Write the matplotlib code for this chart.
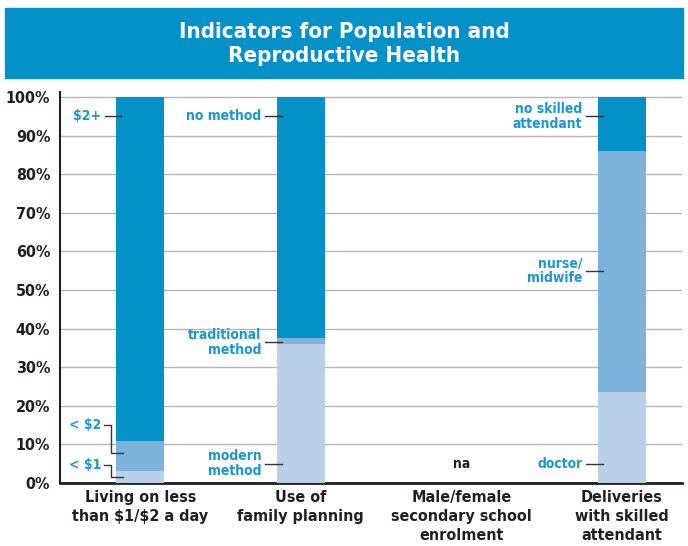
import matplotlib
matplotlib.use("Agg")
from matplotlib import pyplot as plt
from matplotlib.patches import Rectangle
import numpy as np

plt.rcParams['font.family'] = ['DejaVu Sans']
plt.rcParams['font.weight'] = 'bold'
plt.rcParams['font.stretch'] = 'condensed'

categories = ["Living on less\nthan \\$1/\\$2 a day", "Use of\nfamily planning",
              "Male/female\nsecondary school\nenrolment", "Deliveries\nwith skilled\nattendant"]
# stacked segments, bottom to top (percent)
poverty = [3, 8, 89]              # < $1, < $2, $2+
family_planning = [36, 1.5, 62.5]  # modern, traditional, no method
deliveries = [23.5, 62.5, 14]      # doctor, nurse/midwife, no skilled attendant
yticks = [0, 10, 20, 30, 40, 50, 60, 70, 80, 90, 100]

c_light = "#b9d0e9"
c_mid = "#7db2db"
c_dark = "#0391c8"
c_text = "#1a98d5"
c_ink = "#231f20"

fig = plt.figure(figsize=(6.88, 5.46), dpi=100)
ax = fig.add_axes([60/688, 63/546, 622/688, 391/546])

# title band
fig.patches.append(Rectangle((5/688, 468/546), 678/688, 70/546,
                             transform=fig.transFigure, color=c_dark, zorder=0))
fig.text(0.5, 502/546, "Indicators for Population and\nReproductive Health",
         ha='center', va='center', color='white', fontsize=16, linespacing=1.25)

w = 0.3
for xi, vals in [(0, poverty), (1, family_planning), (3, deliveries)]:
    bottom = 0
    for v, c in zip(vals, [c_light, c_mid, c_dark]):
        ax.bar(xi, v, w, bottom=bottom, color=c, zorder=3)
        bottom += v

ax.set_xlim(-0.5, 3.375)
ax.set_ylim(0, 101.3)
ax.set_yticks(yticks)
ax.set_yticklabels([f"{t}%" for t in yticks], fontsize=11.5, color=c_ink)
ax.set_xticks(range(4))
ax.set_xticklabels(categories, fontsize=11.5, color=c_ink, linespacing=1.35, va='top')
ax.tick_params(length=0, pad=5)
ax.tick_params(axis='y', pad=7)
ax.grid(axis='y', color='#b5b5b5', lw=1, zorder=0)
for s in ['top', 'right']:
    ax.spines[s].set_visible(False)
ax.spines['left'].set_color(c_ink)
ax.spines['left'].set_linewidth(1.5)
ax.spines['bottom'].set_color(c_ink)
ax.spines['bottom'].set_linewidth(2)

fs = 10


def label(xc, y, text):
    ax.text(xc - 0.245, y, text, ha='right', va='center', color=c_text,
            fontsize=fs, linespacing=1.1, zorder=4)
    ax.plot([xc - 0.22, xc - 0.12], [y, y], color='#333333', lw=1, zorder=5)


label(0, 95, "$2+")
label(1, 95, "no method")
label(1, 36.5, "traditional\nmethod")
label(1, 5, "modern\nmethod")
label(3, 95, "no skilled\nattendant")
label(3, 55, "nurse/\nmidwife")
label(3, 5, "doctor")

# bracketed poverty labels
for ty, ly, t in [(15, 7.7, "< $2"), (4.7, 1.6, "< $1")]:
    ax.text(-0.245, ty, t, ha='right', va='center', color=c_text, fontsize=fs, zorder=4)
    ax.plot([-0.225, -0.18, -0.18, -0.105], [ty, ty, ly, ly], color='#333333', lw=1, zorder=5)

ax.text(2, 5, "na", ha='center', va='center', color=c_ink, fontsize=10)

fig.savefig("out.png", dpi=100)
